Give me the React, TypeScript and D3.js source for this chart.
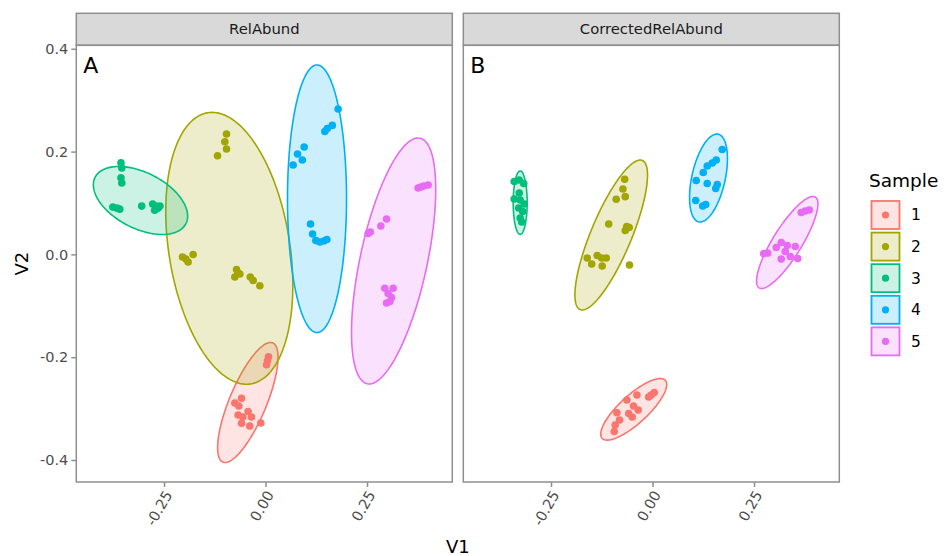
import React, { useRef, useEffect } from 'react';
import * as d3 from 'd3';

const samples = ['1', '2', '3', '4', '5'];
const sampleColors = ['#F8766D', '#A3A500', '#00BF7D', '#00B0F6', '#E76BF3'];
const panelNames = ['RelAbund', 'CorrectedRelAbund'];
const panelTags = ['A', 'B'];
const xTicks = [-0.25, 0, 0.25];
const yTicks = [-0.4, -0.2, 0, 0.2, 0.4];
const xDomain = [-0.466, 0.46];
const yDomain = [-0.4428, 0.4068];

// [sample, V1, V2]
const relAbundPoints = [
  [1, 0.0074, -0.199], [1, 0.0049, -0.2068], [1, 0.0025, -0.2146], [1, -0.0591, -0.28],
  [1, -0.0756, -0.2891], [1, -0.0658, -0.2949], [1, -0.0429, -0.3056], [1, -0.0675, -0.3125],
  [1, -0.0559, -0.3164], [1, -0.0345, -0.3164], [1, -0.0591, -0.3286], [1, -0.0387, -0.3339],
  [1, -0.0116, -0.328],
  [2, -0.0961, 0.2342], [2, -0.1002, 0.2193], [2, -0.0961, 0.2051], [2, -0.1182, 0.192],
  [2, -0.2044, -0.0051], [2, -0.1963, -0.0089], [2, -0.1906, -0.0148], [2, -0.1783, -0.0002],
  [2, -0.0714, -0.0294], [2, -0.0675, -0.0362], [2, -0.0756, -0.044], [2, -0.0633, -0.0381],
  [2, -0.0374, -0.044], [2, -0.0305, -0.0508], [2, -0.014, -0.0609],
  [3, -0.356, 0.178], [3, -0.354, 0.168], [3, -0.356, 0.149], [3, -0.354, 0.139],
  [3, -0.376, 0.092], [3, -0.366, 0.09], [3, -0.359, 0.088], [3, -0.305, 0.094],
  [3, -0.278, 0.098], [3, -0.27, 0.094], [3, -0.265, 0.09], [3, -0.26, 0.094], [3, -0.273, 0.086],
  [4, 0.1788, 0.2829], [4, 0.1645, 0.251], [4, 0.1522, 0.2449], [4, 0.1461, 0.2391],
  [4, 0.0951, 0.2089], [4, 0.0788, 0.1953], [4, 0.0906, 0.1837], [4, 0.068, 0.1739],
  [4, 0.1108, 0.0591], [4, 0.1158, 0.0397], [4, 0.1239, 0.027], [4, 0.1337, 0.0241],
  [4, 0.1436, 0.0261], [4, 0.151, 0.029],
  [5, 0.3759, 0.1292], [5, 0.3825, 0.1311], [5, 0.3899, 0.1331], [5, 0.4005, 0.135],
  [5, 0.298, 0.0688], [5, 0.284, 0.0553], [5, 0.2581, 0.0436], [5, 0.2527, 0.0407],
  [5, 0.2938, -0.066], [5, 0.3143, -0.066], [5, 0.302, -0.0761], [5, 0.3103, -0.0839],
  [5, 0.298, -0.0946], [5, 0.3062, -0.0916],
];

const correctedPoints = [
  [1, 0.0042, -0.2687], [1, -0.0032, -0.2735], [1, -0.0094, -0.2774], [1, -0.0384, -0.2735],
  [1, -0.0631, -0.2833], [1, -0.0468, -0.2949], [1, -0.0352, -0.3027], [1, -0.0586, -0.3095],
  [1, -0.05, -0.3163], [1, -0.0877, -0.308], [1, -0.0813, -0.3222], [1, -0.0919, -0.3319],
  [1, -0.0943, -0.3446],
  [2, -0.0685, 0.1461], [2, -0.0729, 0.1272], [2, -0.0672, 0.1123], [2, -0.0894, 0.1072],
  [2, -0.1079, 0.0591], [2, -0.0635, 0.0543], [2, -0.0574, 0.0523], [2, -0.0672, 0.0465],
  [2, -0.1608, -0.007], [2, -0.1498, -0.0187], [2, -0.1362, -0.0021], [2, -0.1251, -0.007],
  [2, -0.114, -0.007], [2, -0.1239, -0.0226], [2, -0.0567, -0.0206],
  [3, -0.3406, 0.1418], [3, -0.3283, 0.1447], [3, -0.3172, 0.1379], [3, -0.3283, 0.1195],
  [3, -0.3406, 0.1078], [3, -0.3259, 0.1058], [3, -0.316, 0.0981], [3, -0.3296, 0.0903],
  [3, -0.3197, 0.0835], [3, -0.3259, 0.0708], [3, -0.3222, 0.063],
  [4, 0.1717, 0.2041], [4, 0.1569, 0.1837], [4, 0.147, 0.1778], [4, 0.1347, 0.172],
  [4, 0.1249, 0.1593], [4, 0.1076, 0.1438], [4, 0.1347, 0.1379], [4, 0.1594, 0.136],
  [4, 0.1557, 0.1282], [4, 0.1064, 0.1049], [4, 0.1236, 0.0942], [4, 0.131, 0.0971],
  [5, 0.3663, 0.0815], [5, 0.3761, 0.0844], [5, 0.386, 0.0864], [5, 0.2739, 0.0018],
  [5, 0.2837, 0.0027], [5, 0.3047, 0.0134], [5, 0.317, 0.0232], [5, 0.3318, 0.0173],
  [5, 0.3515, 0.0154], [5, 0.3269, 0.0056], [5, 0.317, -0.0089], [5, 0.3392, -0.0041],
  [5, 0.3576, -0.008],
];

// 95% ellipses: [sample, centre V1, centre V2, semi-axis 1 (dV1, dV2), semi-axis 2 (dV1, dV2)]
const relAbundEllipses = [
  [1, -0.0436, -0.2881, 0.0613, 0.116, 0.0421, -0.0138],
  [2, -0.0892, 0.0119, -0.0527, 0.2638, 0.1473, 0.0183],
  [3, -0.3079, 0.1049, 0.1118, -0.0451, -0.0313, -0.0484],
  [4, 0.1268, 0.1082, 0, 0.2603, 0.0727, 0],
  [5, 0.3155, -0.0128, 0.065, 0.2389, 0.0808, -0.0138],
];

const correctedEllipses = [
  [1, -0.0463, -0.3014, 0.0778, 0.0564, 0.0234, -0.0202],
  [2, -0.1017, 0.0377, 0.0766, 0.1451, 0.0461, -0.0152],
  [3, -0.3259, 0.1006, 0, 0.0617, 0.0172, 0],
  [4, 0.1379, 0.1486, 0.0239, 0.0852, 0.0401, -0.007],
  [5, 0.3318, 0.0232, 0.0692, 0.0883, 0.0303, -0.0148],
];

const panelPoints = [relAbundPoints, correctedPoints];
const panelEllipses = [relAbundEllipses, correctedEllipses];

// ggplot prints a plain hyphen, not the unicode minus d3 uses
const hyphen = (fmt: (n: number) => string) => (d: any) => fmt(d).replace('\u2212', '-');

const App = () => {
  const svgRef = useRef(null);

  useEffect(() => {
    const width = 946;
    const height = 556;
    const font = 'DejaVu Sans, Verdana, sans-serif';
    const panelLeft = [76.3, 463.3];
    const panelW = 376;
    const stripTop = 13.3;
    const panelTop = 45.3;
    const panelBottom = 482;
    const borderColor = '#8f8f8f';

    const svg = d3.select(svgRef.current)
      .attr('width', width)
      .attr('height', height)
      .style('position', 'absolute')
      .style('left', '0px')
      .style('top', '0px')
      .style('font-family', font);

    svg.selectAll('*').remove();
    svg.append('rect').attr('width', width).attr('height', height).attr('fill', 'white');

    const color = d3.scaleOrdinal<number, string>()
      .domain([1, 2, 3, 4, 5])
      .range(sampleColors);

    const yScale = d3.scaleLinear().domain(yDomain).range([panelBottom, panelTop]);
    const thetas = d3.range(0, 2 * Math.PI, Math.PI / 90);

    panelNames.forEach((name, i) => {
      const x0 = panelLeft[i];
      const xScale = d3.scaleLinear().domain(xDomain).range([x0, x0 + panelW]);
      const g = svg.append('g');

      // strip
      g.append('rect')
        .attr('x', x0).attr('y', stripTop)
        .attr('width', panelW).attr('height', panelTop - stripTop)
        .attr('fill', '#d9d9d9')
        .attr('stroke', borderColor)
        .attr('stroke-width', 1.5);
      g.append('text')
        .attr('x', x0 + panelW / 2)
        .attr('y', (stripTop + panelTop) / 2)
        .attr('dy', '0.35em')
        .attr('text-anchor', 'middle')
        .attr('font-size', 14.8)
        .attr('fill', '#1a1a1a')
        .text(name);

      const clipId = `clip-${i}`;
      g.append('clipPath').attr('id', clipId)
        .append('rect')
        .attr('x', x0).attr('y', panelTop)
        .attr('width', panelW).attr('height', panelBottom - panelTop);

      const plot = g.append('g').attr('clip-path', `url(#${clipId})`);

      const ellipseLine = d3.line<number[]>()
        .x(d => xScale(d[0]))
        .y(d => yScale(d[1]))
        .curve(d3.curveLinearClosed);

      plot.selectAll('.ellipse')
        .data(panelEllipses[i])
        .enter().append('path')
        .attr('class', 'ellipse')
        .attr('d', e => ellipseLine(thetas.map(t => [
          e[1] + e[3] * Math.cos(t) + e[5] * Math.sin(t),
          e[2] + e[4] * Math.cos(t) + e[6] * Math.sin(t),
        ])))
        .attr('fill', e => color(e[0]))
        .attr('fill-opacity', 0.2)
        .attr('stroke', e => color(e[0]))
        .attr('stroke-width', 1.6);

      plot.selectAll('.pt')
        .data(panelPoints[i])
        .enter().append('circle')
        .attr('class', 'pt')
        .attr('cx', d => xScale(d[1]))
        .attr('cy', d => yScale(d[2]))
        .attr('r', 3.8)
        .attr('fill', d => color(d[0]));

      // panel border
      g.append('rect')
        .attr('x', x0).attr('y', panelTop)
        .attr('width', panelW).attr('height', panelBottom - panelTop)
        .attr('fill', 'none')
        .attr('stroke', borderColor)
        .attr('stroke-width', 1.5);

      g.append('text')
        .attr('x', x0 + 7)
        .attr('y', panelTop + 28)
        .attr('font-size', 22)
        .attr('fill', 'black')
        .text(panelTags[i]);

      // x axis
      const xAxis = g.append('g')
        .attr('transform', `translate(0, ${panelBottom})`)
        .call(d3.axisBottom(xScale).tickValues(xTicks).tickSize(5).tickFormat(hyphen(d3.format('.2f'))));
      xAxis.select('.domain').remove();
      xAxis.selectAll('.tick line').attr('stroke', borderColor).attr('stroke-width', 1.5);
      xAxis.selectAll('.tick text')
        .attr('font-family', font)
        .attr('font-size', 14.5)
        .attr('fill', '#4d4d4d')
        .attr('text-anchor', 'end')
        .attr('x', 0).attr('y', 0)
        .attr('dy', '0.35em')
        .attr('transform', 'translate(4, 10) rotate(-60)');

      if (i === 0) {
        const yAxis = g.append('g')
          .attr('transform', `translate(${x0}, 0)`)
          .call(d3.axisLeft(yScale).tickValues(yTicks).tickSize(5).tickFormat(hyphen(d3.format('.1f'))));
        yAxis.select('.domain').remove();
        yAxis.selectAll('.tick line').attr('stroke', borderColor).attr('stroke-width', 1.5);
        yAxis.selectAll('.tick text')
          .attr('font-family', font)
          .attr('font-size', 14.5)
          .attr('fill', '#4d4d4d')
          .attr('x', -8);
      }
    });

    // axis titles
    svg.append('text')
      .attr('x', (panelLeft[0] + panelLeft[1] + panelW) / 2)
      .attr('y', 553)
      .attr('text-anchor', 'middle')
      .attr('font-size', 18)
      .attr('fill', 'black')
      .text('V1');
    svg.append('text')
      .attr('transform', `translate(28, ${(panelTop + panelBottom) / 2}) rotate(-90)`)
      .attr('text-anchor', 'middle')
      .attr('font-size', 18)
      .attr('fill', 'black')
      .text('V2');

    // legend
    const legend = svg.append('g').attr('transform', 'translate(870, 0)');
    legend.append('text')
      .attr('x', -1).attr('y', 187)
      .attr('font-size', 18.5)
      .attr('fill', 'black')
      .text('Sample');

    const keys = legend.selectAll('.key')
      .data(samples)
      .enter().append('g')
      .attr('class', 'key')
      .attr('transform', (d, k) => `translate(0, ${200 + k * 31.6})`);
    keys.append('rect')
      .attr('x', 1.5).attr('y', 1)
      .attr('width', 28).attr('height', 28)
      .attr('fill', (d, k) => sampleColors[k])
      .attr('fill-opacity', 0.2)
      .attr('stroke', (d, k) => sampleColors[k])
      .attr('stroke-width', 1.8);
    keys.append('circle')
      .attr('cx', 15.5).attr('cy', 15)
      .attr('r', 3.6)
      .attr('fill', (d, k) => sampleColors[k]);
    keys.append('text')
      .attr('x', 41).attr('y', 15)
      .attr('dy', '0.35em')
      .attr('font-size', 15.5)
      .attr('fill', 'black')
      .text(d => d);
  }, []);

  return <svg ref={svgRef}></svg>;
};

export default App;
